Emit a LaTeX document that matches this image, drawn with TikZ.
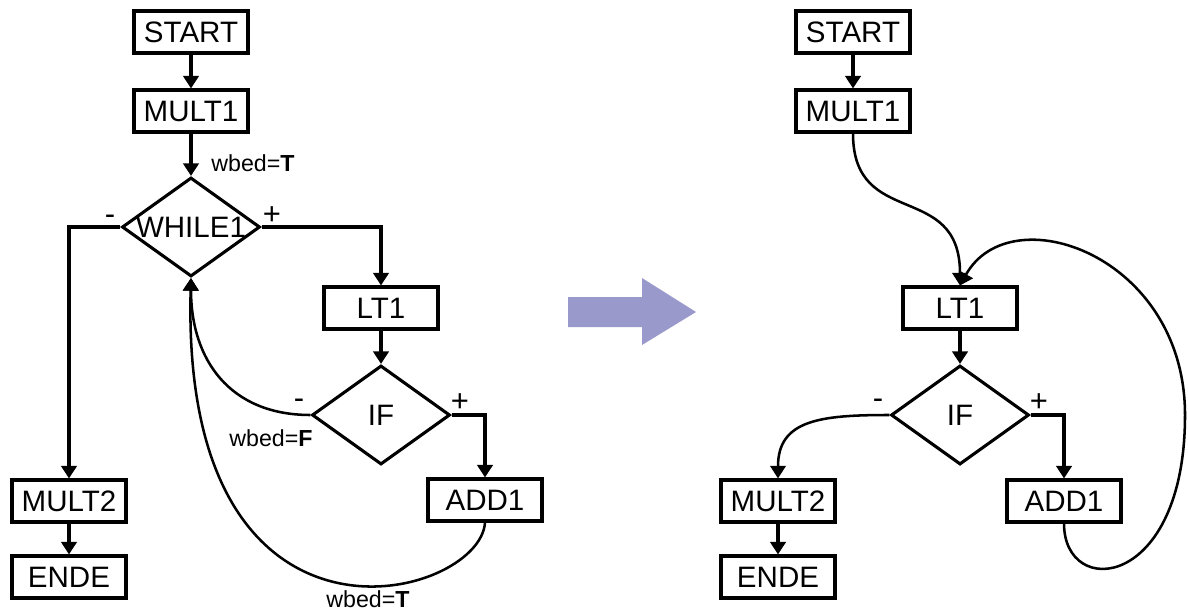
\documentclass[tikz,border=0pt]{standalone}
\usepackage{fontspec}
\setmainfont{Liberation Sans}
\usepackage{tikz}
\usetikzlibrary{shapes.geometric, arrows.meta, positioning, calc}
\definecolor{ArrowLilac}{HTML}{9999CC}
\tikzset{
    box/.style={draw, line width=2.2pt, minimum width=2.85cm, minimum height=1.05cm,
                inner sep=0pt, font=\fontsize{21}{25}\selectfont},
    decision/.style={draw, diamond, line width=2.2pt, minimum width=3.45cm,
                minimum height=2.475cm, inner sep=0pt},
    flow/.style={line width=2.4pt, -{Triangle[length=9pt, width=11pt]}},
    bend flow/.style={line width=1.8pt, -{Triangle[length=9pt, width=11pt]}},
    lbl/.style={inner sep=0pt, font=\fontsize{16.5}{19}\selectfont},
    sign/.style={inner sep=0pt, anchor=base, font=\fontsize{22}{25}\selectfont},
}

\begin{document}
\begin{tikzpicture}[x=0.025cm, y=-0.025cm]
    \useasboundingbox (0,0) rectangle (1188,610);

    % Left flow chart
    \node[box] (start) at (191,32) {START};
    \node[box] (mult1) at (191,111) {MULT1};
    \node[decision, label={[name=while1-t, font=\fontsize{21}{25}\selectfont]center:WHILE1}]
        (while1) at (191,227) {};
    \node[box] (lt1) at (381,308) {LT1};
    \node[decision, label={[name=if-t, font=\fontsize{21}{25}\selectfont]center:IF}]
        (if) at (381,415) {};
    \node[box] (add1) at (485,500) {ADD1};
    \node[box] (mult2) at (69,501) {MULT2};
    \node[box] (ende) at (69,577) {ENDE};

    \node[sign] (while1-m) at (110,224) {-};
    \node[sign] (while1-p) at (272,224) {+};
    \node[sign] (if-m) at (299,408) {-};
    \node[sign] (if-p) at (460,411) {+};
    \node[lbl] (wbed1) at (253,163) {wbed=\textbf{T}};
    \node[lbl] (wbed2) at (271,438) {wbed=\textbf{F}};
    \node[lbl] (wbed3) at (368,599) {wbed=\textbf{T}};

    \draw[flow] (start) -- (mult1);
    \draw[flow] (mult1) -- (while1.north);
    \draw[flow] (while1.west) -| (mult2.north);
    \draw[flow] (while1.east) -| (lt1.north);
    \draw[flow] (lt1) -- (if.north);
    \draw[flow] (if.east) -| (add1.north);
    \draw[flow] (mult2) -- (ende);
    \draw[bend flow] (if.west) .. controls (230,415) and (191,360) .. (while1.south);
    \draw[bend flow] (add1.south) .. controls (480,600) and (180,680) .. (while1.south);

    % Transformation arrow
    \fill[ArrowLilac] (568,297) -- (642,297) -- (642,278) -- (696,312)
        -- (642,345) -- (642,327) -- (568,327) -- cycle;

    % Right flow chart
    \node[box] (start-r) at (853,32) {START};
    \node[box] (mult1-r) at (853,111) {MULT1};
    \node[box] (lt1-r) at (960,308) {LT1};
    \node[decision, label={[name=if-r-t, font=\fontsize{21}{25}\selectfont]center:IF}]
        (if-r) at (960,415) {};
    \node[box] (add1-r) at (1064,501) {ADD1};
    \node[box] (mult2-r) at (778,501) {MULT2};
    \node[box] (ende-r) at (778,577) {ENDE};

    \node[sign] (if-r-m) at (878,408) {-};
    \node[sign] (if-r-p) at (1039,411) {+};

    \draw[flow] (start-r) -- (mult1-r);
    \draw[flow] (lt1-r) -- (if-r.north);
    \draw[flow] (if-r.east) -| (add1-r.north);
    \draw[flow] (mult2-r) -- (ende-r);
    \draw[bend flow] (mult1-r.south) .. controls (853,230) and (960,180) .. (lt1-r.north);
    \draw[bend flow] (if-r.west) .. controls (820,415) and (778,420) .. (mult2-r.north);
    \draw[bend flow] (add1-r.south) .. controls (1064,600) and (1185,590) .. (1185,415)
        .. controls (1185,255) and (1010,195) .. (lt1-r.north);
\end{tikzpicture}
\end{document}
